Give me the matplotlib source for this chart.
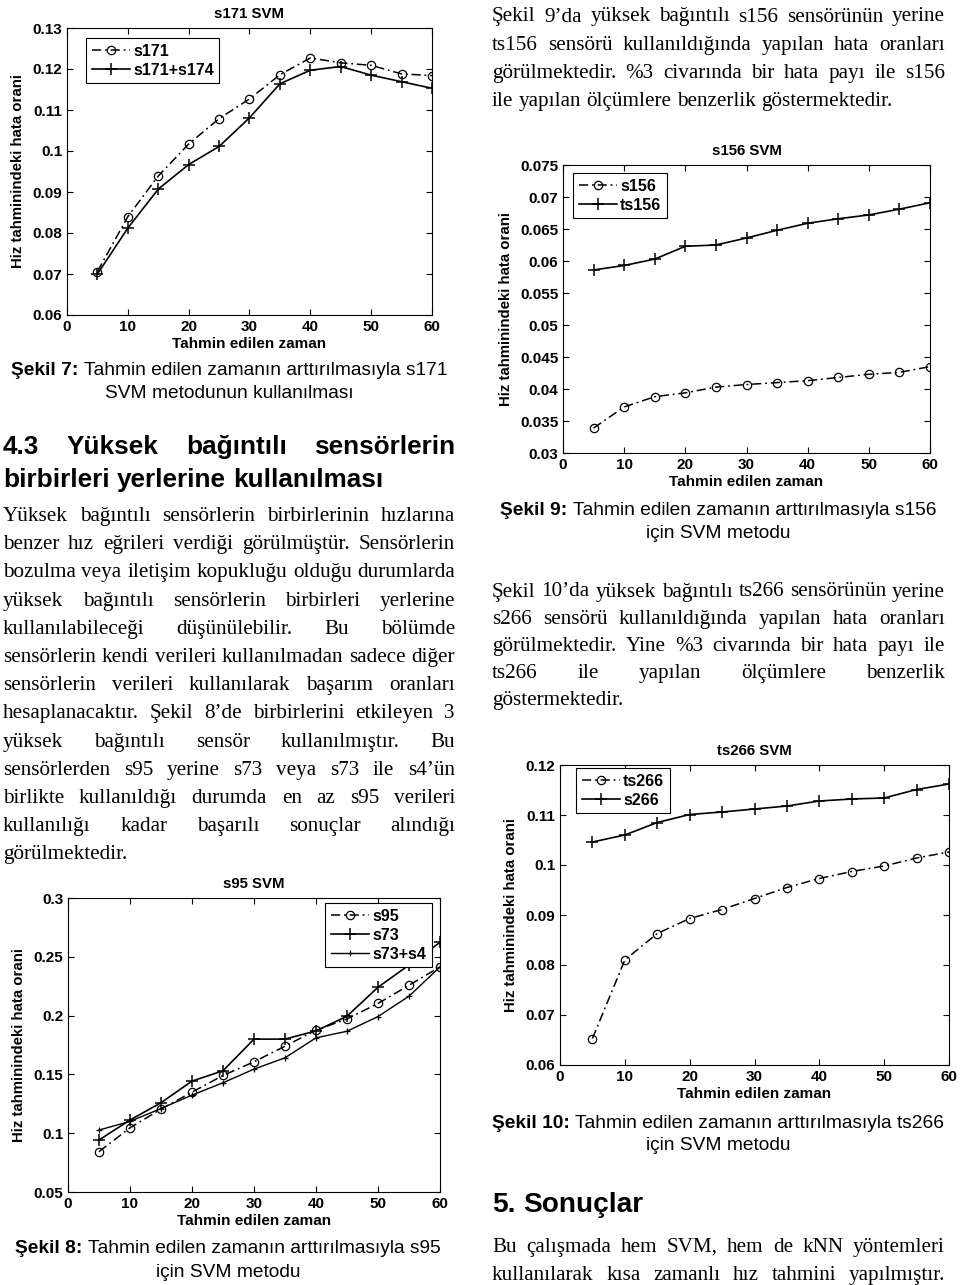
import matplotlib
matplotlib.use('Agg')
import matplotlib.pyplot as plt

# ---------------- data ----------------
x_min = [5, 10, 15, 20, 25, 30, 35, 40, 45, 50, 55, 60]

s171 = [0.0706, 0.0840, 0.0939, 0.1017, 0.1079, 0.1127, 0.1186, 0.1227, 0.1215, 0.1209, 0.1188, 0.1184]
s171_s174 = [0.0700, 0.0812, 0.0907, 0.0967, 0.1011, 0.1081, 0.1164, 0.1197, 0.1206, 0.1185, 0.1169, 0.1153]

s156 = [0.0339, 0.0372, 0.0388, 0.0394, 0.0403, 0.0407, 0.0410, 0.0413, 0.0418, 0.0423, 0.0426, 0.0435]
ts156 = [0.0586, 0.0593, 0.0603, 0.0623, 0.0625, 0.0636, 0.0648, 0.0659, 0.0666, 0.0672, 0.0681, 0.0691]

ts266 = [0.0653, 0.0810, 0.0863, 0.0893, 0.0911, 0.0933, 0.0955, 0.0973, 0.0987, 0.0998, 0.1014, 0.1026]
s266 = [0.1046, 0.1060, 0.1085, 0.1101, 0.1106, 0.1112, 0.1118, 0.1128, 0.1132, 0.1134, 0.1151, 0.1162]

s95 = [0.0843, 0.1046, 0.1205, 0.1349, 0.1491, 0.1607, 0.1740, 0.1876, 0.1972, 0.2103, 0.2258, 0.2414]
s73 = [0.0942, 0.1112, 0.1259, 0.1443, 0.1531, 0.1800, 0.1800, 0.1870, 0.1995, 0.2241, 0.2430, 0.2623]
s73_s4 = [0.1027, 0.1100, 0.1210, 0.1324, 0.1429, 0.1545, 0.1641, 0.1811, 0.1867, 0.1992, 0.2165, 0.2414]

xticks = [0, 10, 20, 30, 40, 50, 60]
yticks_171 = [0.06, 0.07, 0.08, 0.09, 0.10, 0.11, 0.12, 0.13]
yticks_156 = [0.03, 0.035, 0.04, 0.045, 0.05, 0.055, 0.06, 0.065, 0.07, 0.075]
yticks_266 = [0.06, 0.07, 0.08, 0.09, 0.10, 0.11, 0.12]
yticks_95 = [0.05, 0.10, 0.15, 0.20, 0.25, 0.30]

xlabel = 'Tahmin edilen zaman'
ylabel = 'Hiz tahminindeki hata orani'

# ---------------- page text ----------------
para_9 = ["Şekil 9’da yüksek bağıntılı s156 sensörünün yerine",
          "ts156 sensörü kullanıldığında yapılan hata oranları",
          "görülmektedir. %3 civarında bir hata payı ile s156",
          "ile yapılan ölçümlere benzerlik göstermektedir."]
para_10 = ["Şekil 10’da yüksek bağıntılı ts266 sensörünün yerine",
           "s266 sensörü kullanıldığında yapılan hata oranları",
           "görülmektedir. Yine %3 civarında bir hata payı ile",
           "ts266 ile yapılan ölçümlere benzerlik",
           "göstermektedir."]
heading_43 = ["4.3 Yüksek bağıntılı sensörlerin",
              "birbirleri yerlerine kullanılması"]
para_43 = ["Yüksek bağıntılı sensörlerin birbirlerinin hızlarına",
           "benzer hız eğrileri verdiği görülmüştür. Sensörlerin",
           "bozulma veya iletişim kopukluğu olduğu durumlarda",
           "yüksek bağıntılı sensörlerin birbirleri yerlerine",
           "kullanılabileceği düşünülebilir. Bu bölümde",
           "sensörlerin kendi verileri kullanılmadan sadece diğer",
           "sensörlerin verileri kullanılarak başarım oranları",
           "hesaplanacaktır. Şekil 8’de birbirlerini etkileyen 3",
           "yüksek bağıntılı sensör kullanılmıştır. Bu",
           "sensörlerden s95 yerine s73 veya s73 ile s4’ün",
           "birlikte kullanıldığı durumda en az s95 verileri",
           "kullanılığı kadar başarılı sonuçlar alındığı",
           "görülmektedir."]
heading_5 = "5. Sonuçlar"
para_5 = ["Bu çalışmada hem SVM, hem de kNN yöntemleri",
          "kullanılarak kısa zamanlı hız tahmini yapılmıştır."]

# ---------------- setup ----------------
W, H = 960, 1285
fig = plt.figure(figsize=(9.6, 12.85), dpi=100)
fig.patch.set_facecolor('white')
renderer = fig.canvas.get_renderer()

SANS = 'Liberation Sans'
SERIF = 'Liberation Serif'


def fx(x):
    return x / W


def fy(y):
    return 1 - y / H


def text_width(s, **kw):
    t = fig.text(0, 0, s, **kw)
    w = t.get_window_extent(renderer).width
    t.remove()
    return w


def put_line(s, x0, x1, yb, justify=True, **kw):
    words = s.split()
    widths = [text_width(w, **kw) for w in words]
    if justify and len(words) > 1:
        gap = (x1 - x0 - sum(widths)) / (len(words) - 1)
    else:
        gap = text_width('a a', **kw) - text_width('aa', **kw)
    x = x0
    for w, wd in zip(words, widths):
        fig.text(fx(x), fy(yb), w, ha='left', va='baseline', **kw)
        x += wd + gap


def paragraph(lines, x0, x1, y0, dy, last_justified=False, **kw):
    for i, ln in enumerate(lines):
        last = (i == len(lines) - 1)
        put_line(ln, x0, x1, y0 + i * dy, justify=(not last) or last_justified, **kw)


def caption(bold, rest, line2, cx, y1, y2, fs=13.8):
    kb = dict(fontsize=fs, family=SANS, weight='bold')
    kr = dict(fontsize=fs, family=SANS)
    wb = text_width(bold, **kb)
    sp = text_width('a a', **kr) - text_width('aa', **kr)
    wr = text_width(rest, **kr)
    x = cx - (wb + sp + wr) / 2
    fig.text(fx(x), fy(y1), bold, ha='left', va='baseline', **kb)
    fig.text(fx(x + wb + sp), fy(y1), rest, ha='left', va='baseline', **kr)
    fig.text(fx(cx), fy(y2), line2, ha='center', va='baseline', **kr)


circ = dict(color='k', lw=1.1, ls=(0, (6, 2.5, 1.2, 2.5)), marker='o', ms=6,
            mfc='none', mew=0.9)
plus = dict(color='k', lw=1.2, ls='-', marker='+', ms=8, mew=1.1)
small_plus = dict(color='k', lw=1.0, ls='-', marker='+', ms=4.5, mew=0.9)


def chart(rect, title, series, yticks, leg_anchor, leg_loc):
    l, t, r, b = rect
    ax = fig.add_axes([fx(l), fy(b), (r - l) / W, (b - t) / H])
    for ys, lab, st in series:
        ax.plot(x_min, ys, label=lab, **st)
    ax.set_xlim(0, 60)
    ax.set_ylim(yticks[0], yticks[-1])
    ax.set_xticks(xticks)
    ax.set_xticklabels([str(v) for v in xticks], fontsize=11, fontweight='bold', family=SANS)
    ax.set_yticks(yticks)
    ax.set_yticklabels([f'{v:g}' for v in yticks], fontsize=11, fontweight='bold', family=SANS)
    ax.tick_params(direction='in', length=4, width=0.8, top=True, right=True, pad=3.5)
    for sp in ax.spines.values():
        sp.set_linewidth(0.8)
    ax.set_title(title, fontsize=10.8, fontweight='bold', family=SANS, pad=7)
    ax.set_xlabel(xlabel, fontsize=11, fontweight='bold', family=SANS, labelpad=2)
    ax.set_ylabel(ylabel, fontsize=10.8, fontweight='bold', family=SANS, labelpad=5)
    ax_w, ax_h = r - l, b - t
    ax_anchor = ((leg_anchor[0] - l) / ax_w, 1 - (leg_anchor[1] - t) / ax_h)
    leg = ax.legend(loc=leg_loc, bbox_to_anchor=ax_anchor, borderaxespad=0,
                    prop=dict(family=SANS, weight='bold', size=11.5),
                    fancybox=False, edgecolor='k', framealpha=1,
                    handlelength=2.4, borderpad=0.35, labelspacing=0.25,
                    handletextpad=0.2)
    leg.get_frame().set_linewidth(0.8)
    return ax


# Chart s171
chart((67, 28, 432, 315), 's171 SVM',
      [(s171, 's171', circ), (s171_s174, 's171+s174', plus)],
      yticks_171, (86, 38), 'upper left')
caption('Şekil 7:', 'Tahmin edilen zamanın arttırılmasıyla s171',
        'SVM metodunun kullanılması', 229, 375, 398)

# Chart s156
chart((563, 165, 930, 453), 's156 SVM',
      [(s156, 's156', circ), (ts156, 'ts156', plus)],
      yticks_156, (573, 173), 'upper left')
caption('Şekil 9:', 'Tahmin edilen zamanın arttırılmasıyla s156',
        'için SVM metodu', 718, 515, 538)

# Chart ts266
chart((560, 765, 949, 1065), 'ts266 SVM',
      [(ts266, 'ts266', circ), (s266, 's266', plus)],
      yticks_266, (576, 768), 'upper left')
caption('Şekil 10:', 'Tahmin edilen zamanın arttırılmasıyla ts266',
        'için SVM metodu', 718, 1128, 1150)

# Chart s95
chart((68, 898, 440, 1192), 's95 SVM',
      [(s95, 's95', circ), (s73, 's73', plus), (s73_s4, 's73+s4', small_plus)],
      yticks_95, (432, 903), 'upper right')
caption('Şekil 8:', 'Tahmin edilen zamanın arttırılmasıyla s95',
        'için SVM metodu', 228, 1253, 1277)

# ---------------- text blocks ----------------
body = dict(fontsize=15.2, family=SERIF)
head43 = dict(fontsize=18.8, family=SANS, weight='bold')
head5 = dict(fontsize=20.2, family=SANS, weight='bold')

paragraph(para_9, 492, 945, 21.5, 28.2, **body)
paragraph(para_10, 492, 945, 596.5, 27.2, **body)
paragraph(heading_43, 3, 455, 454, 33, **head43)
paragraph(para_43, 3, 455, 521, 28.2, **body)
put_line(heading_5, 492, 945, 1212, justify=False, **head5)
paragraph(para_5, 492, 945, 1252, 28, last_justified=True, **body)

fig.savefig('out.png', dpi=100, facecolor='white')
